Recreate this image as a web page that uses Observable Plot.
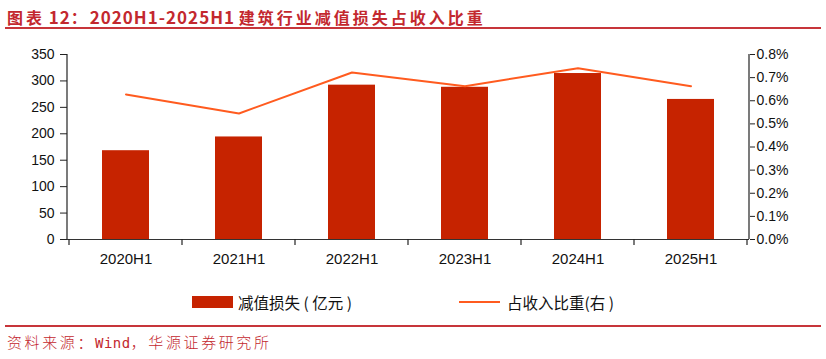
<!DOCTYPE html>
<html>
<head>
<meta charset="utf-8">
<script src="https://cdn.jsdelivr.net/npm/d3@7"></script>
<script src="https://cdn.jsdelivr.net/npm/@observablehq/plot@0.6"></script>
<style>
  html, body { margin: 0; padding: 0; background: #fff; }
  #wrap { position: relative; width: 826px; height: 359px; overflow: hidden; background: #fff; }
  #title { position: absolute; left: 7px; top: 4px; font-family: "Noto Sans CJK SC", sans-serif; font-weight: bold; font-size: 16px; color: #C3282E; white-space: nowrap; }
  #title .cj { letter-spacing: 3px; }
  #title .lt { letter-spacing: 1px; font-size: 17px; }
  .hr { position: absolute; left: 5px; width: 816px; height: 2px; background: #C7353A; }
  #chart { position: absolute; left: 0; top: 30px; }
  #legend { position: absolute; top: 292px; left: 0; width: 826px; height: 20px; font-family: "Noto Sans CJK SC", sans-serif; font-size: 15.5px; color: #111; }
  .sw { position: absolute; }
  .lt2 { position: absolute; top: 0; line-height: 20px; white-space: nowrap; }
  #foot { position: absolute; left: 7px; top: 331px; font-family: "Noto Sans CJK SC", sans-serif; font-size: 15px; letter-spacing: 2.6px; color: #C3282E; white-space: nowrap; font-weight: 300; }
  #foot .w { font-family: "DejaVu Sans Mono", monospace; font-size: 14px; letter-spacing: 0.5px; }
</style>
</head>
<body>
<div id="wrap">
  <div id="title"><span class="cj">图表</span> <span class="lt">12</span><span class="cj">：</span><span class="lt">2020H1-2025H1</span> <span class="cj">建筑行业减值损失占收入比重</span></div>
  <div class="hr" style="top:27px"></div>
  <div id="chart"></div>
  <div id="legend">
    <div class="sw" style="left:192px; top:4px; width:41px; height:12px; background:#C62300"></div>
    <div class="lt2" style="left:238px">减值损失 ( 亿元 )</div>
    <div class="sw" style="left:459px; top:9px; width:41px; height:2px; background:#FF5B1F"></div>
    <div class="lt2" style="left:507px">占收入比重(右 )</div>
  </div>
  <div class="hr" style="top:325px"></div>
  <div id="foot">资料来源：<span class="w">Wind</span>，华源证券研究所</div>
</div>
<script>
const categories = ["2020H1", "2021H1", "2022H1", "2023H1", "2024H1", "2025H1"];
const losses = [168, 194, 292, 288, 314, 265];          // 减值损失（亿元）
const ratioPct = [0.627, 0.545, 0.722, 0.663, 0.741, 0.663]; // 占收入比重 (%)
const leftTicks = [0, 50, 100, 150, 200, 250, 300, 350];
const rightTicks = [0, 0.1, 0.2, 0.3, 0.4, 0.5, 0.6, 0.7, 0.8];
const leftMax = 350;
const rightMax = 0.8;

const k = leftMax / rightMax;
const data = categories.map((c, i) => ({cat: c, loss: losses[i], ratio: ratioPct[i]}));

const W = 826, H = 262, mL = 67, mR = 77, mT = 24, mB = 53;
const plot = Plot.plot({
  width: W, height: H,
  marginTop: mT, marginBottom: mB, marginLeft: mL, marginRight: mR,
  style: {fontFamily: "'Liberation Sans', Arial, sans-serif", fontSize: "14px", color: "#111", background: "#fff"},
  x: {domain: categories, paddingInner: 0.586, paddingOuter: 0.293, label: null},
  y: {domain: [0, leftMax], label: null},
  marks: [
    Plot.barY(data, {x: "cat", y: "loss", fill: "#C62300"}),
    Plot.lineY(data, {x: "cat", y: d => d.ratio * k, stroke: "#FF5B1F", strokeWidth: 2}),
    Plot.ruleY([0], {stroke: "#333", strokeWidth: 1.2}),
    Plot.axisY({anchor: "left", ticks: leftTicks, tickSize: 7, tickPadding: 6, label: null, stroke: "#222"}),
    Plot.axisY({anchor: "right", ticks: rightTicks.map(v => v * k), tickFormat: v => (v / k).toFixed(1) + "%", tickSize: 5, tickPadding: 2, label: null, stroke: "#222"}),
    Plot.axisX({tickSize: 0, tickPadding: 14, label: null, fontSize: 15})
  ]
});
document.getElementById("chart").appendChild(plot);

// axis lines and category boundary ticks, via the plot's own scales
const xs = plot.scale("x"), ys = plot.scale("y");
const svg = d3.select(plot);
const y0 = ys.apply(0), yTop = ys.apply(leftMax);
const g = svg.append("g").attr("stroke", "#222").attr("stroke-width", 1.2);
g.append("line").attr("x1", mL).attr("x2", mL).attr("y1", yTop).attr("y2", y0);
g.append("line").attr("x1", W - mR).attr("x2", W - mR).attr("y1", yTop).attr("y2", y0);
const gap = (xs.step - xs.bandwidth) / 2;
const bounds = categories.map(c => xs.apply(c) - gap);
bounds.push(xs.apply(categories[categories.length - 1]) + xs.bandwidth + gap);
bounds.forEach(b => g.append("line").attr("x1", b).attr("x2", b).attr("y1", y0).attr("y2", y0 + 6));
</script>
</body>
</html>
